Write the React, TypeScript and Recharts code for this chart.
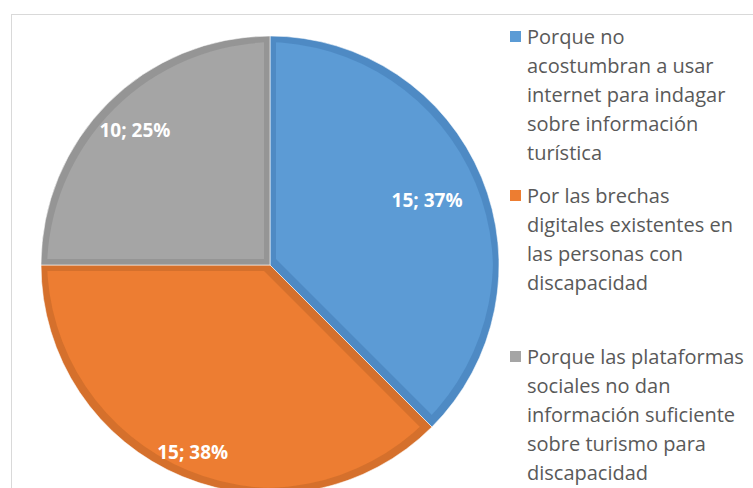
import React from 'react';
import { PieChart, Pie, Cell, Legend } from 'recharts';

const categories = [
  'Porque no acostumbran a usar internet para indagar sobre información turística',
  'Por las brechas digitales existentes en las personas con discapacidad',
  'Porque las plataformas sociales no dan información suficiente sobre turismo para discapacidad',
];
const values = [15, 15, 10];
const percentLabels = ['37%', '38%', '25%'];
const legendLines = [
  ['Porque no', 'acostumbran a usar', 'internet para indagar', 'sobre información', 'turística'],
  ['Por las brechas', 'digitales existentes en', 'las personas con', 'discapacidad'],
  ['Porque las plataformas', 'sociales no dan', 'información suficiente', 'sobre turismo para', 'discapacidad'],
];

const fillColors = ['#5B9BD5', '#ED7D31', '#A5A5A5'];
const rimColors = ['#4E8AC4', '#D5702C', '#959595'];
const labelRadii = [170, 202, 191];
const legendGaps = [0, 14, 45];

const data = categories.map((name, i) => ({ name, value: values[i], pct: percentLabels[i] }));

const RAD = Math.PI / 180;

const renderLabel = (props: any) => {
  const { cx, cy, midAngle, index } = props;
  const r = labelRadii[index];
  const x = cx + r * Math.cos(-midAngle * RAD);
  const y = cy + r * Math.sin(-midAngle * RAD);
  return (
    <text
      x={x}
      y={y}
      fill="#ffffff"
      textAnchor="middle"
      dominantBaseline="central"
      style={{ fontFamily: '"Open Sans", sans-serif', fontWeight: 700, fontSize: 19 }}
    >
      {`${values[index]}; ${percentLabels[index]}`}
    </text>
  );
};

const renderLegend = () => (
  <div style={{ fontFamily: '"Open Sans", sans-serif', fontSize: 20, color: '#595959', lineHeight: '29px' }}>
    {legendLines.map((lines, i) => (
      <div key={i} style={{ position: 'relative', paddingLeft: 19, marginTop: legendGaps[i] }}>
        <div
          style={{
            position: 'absolute',
            left: 2,
            top: 9,
            width: 11,
            height: 11,
            background: fillColors[i],
          }}
        />
        {lines.map((l, j) => (
          <div key={j} style={{ whiteSpace: 'nowrap' }}>{l}</div>
        ))}
      </div>
    ))}
  </div>
);

export default function App() {
  return (
    <div style={{ position: 'absolute', left: 0, top: 0, width: 753, height: 488, overflow: 'hidden', background: '#fff' }}>
      <svg width={0} height={0} style={{ position: 'absolute' }}>
        <defs>
          <filter id="inset" x="-5%" y="-5%" width="110%" height="110%">
            <feMorphology operator="erode" radius="6" />
          </filter>
        </defs>
      </svg>
      <div style={{ position: 'absolute', left: 0, top: 0 }}>
        <PieChart width={753} height={488} margin={{ top: 0, right: 0, bottom: 0, left: 0 }}>
          <Pie
            data={data}
            dataKey="value"
            nameKey="name"
            cx={270}
            cy={265}
            outerRadius={229}
            startAngle={90}
            endAngle={-270}
            stroke="rgba(255,255,255,0.55)"
            strokeWidth={1}
            isAnimationActive={false}
            labelLine={false}
          >
            {data.map((d, i) => (
              <Cell key={i} fill={rimColors[i]} />
            ))}
          </Pie>
          <Pie
            data={data}
            dataKey="value"
            nameKey="name"
            cx={270}
            cy={265}
            outerRadius={229}
            startAngle={90}
            endAngle={-270}
            stroke="none"
            isAnimationActive={false}
            labelLine={false}
            label={renderLabel}
          >
            {data.map((d, i) => (
              <Cell key={i} fill={fillColors[i]} filter="url(#inset)" />
            ))}
          </Pie>
          <Legend
            layout="vertical"
            verticalAlign="top"
            align="right"
            content={renderLegend}
            wrapperStyle={{ left: 508, top: 22, width: 250 }}
          />
        </PieChart>
      </div>
      <div
        style={{
          position: 'absolute',
          left: 11,
          top: 14,
          width: 780,
          height: 520,
          borderTop: '1px solid #d9d9d9',
          borderLeft: '1px solid #d9d9d9',
          boxSizing: 'border-box',
          pointerEvents: 'none',
        }}
      />
    </div>
  );
}
